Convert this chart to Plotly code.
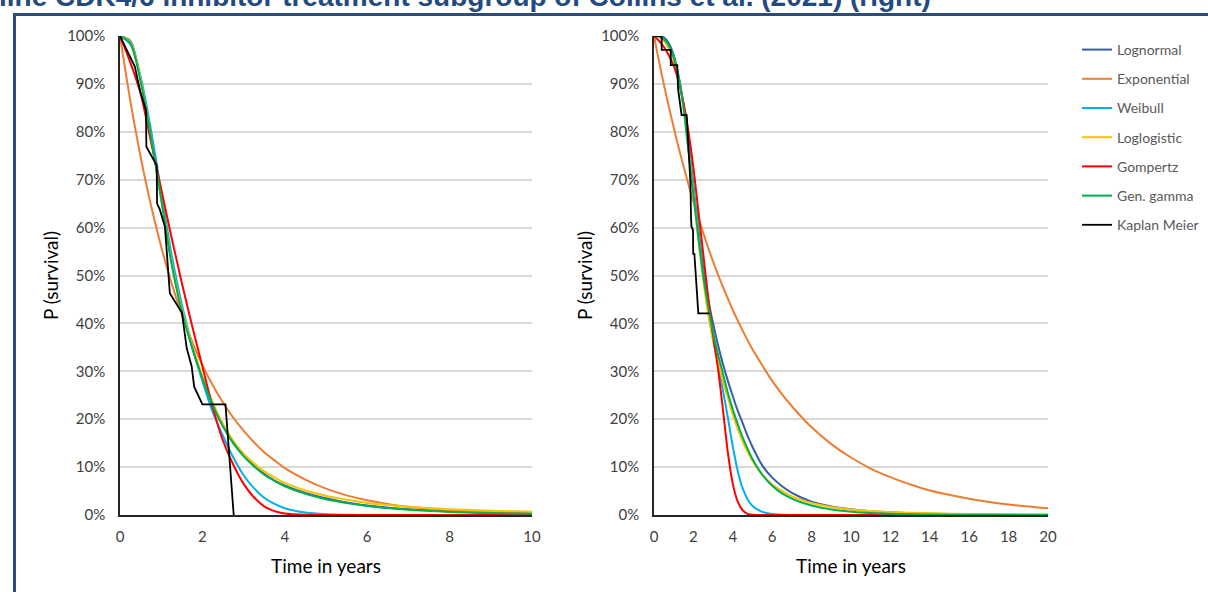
import plotly.graph_objects as go

# ---------------- data ----------------
title_text = "line CDK4/6 inhibitor treatment subgroup of Collins et al. (2021) (right)"
model_names = ["Lognormal", "Exponential", "Weibull", "Loglogistic", "Gompertz", "Gen. gamma", "Kaplan Meier"]
model_colors = ["#3A5DA5", "#ED7D31", "#00B0F0", "#FFC000", "#FF0000", "#00B050", "#000000"]

# Left panel (years 0-10)
t_left = [0, 0.25, 0.5, 0.75, 1, 1.25, 1.5, 1.75, 2, 2.25, 2.5, 2.75, 3, 3.25, 3.5, 3.75, 4, 4.5, 5, 5.5, 6, 7, 8, 9, 10]
left_lognormal = [100, 99, 91, 79, 66, 53, 43, 35, 28.5, 23, 18.5, 15, 12.4, 10.3, 8.6, 7.2, 6.2, 4.6, 3.5, 2.6, 2.0, 1.2, 0.75, 0.5, 0.32]
left_exponential = [100, 86.5, 74.8, 64.7, 56.0, 48.4, 41.9, 36.2, 31.3, 27.1, 23.5, 20.3, 17.6, 15.2, 13.1, 11.4, 9.8, 7.4, 5.5, 4.1, 3.1, 1.7, 1.0, 0.54, 0.30]
left_weibull = [100, 98.3, 91.5, 80.5, 67.5, 54.5, 44, 35.5, 28, 21.5, 16.5, 12, 8.3, 5.6, 3.6, 2.3, 1.4, 0.5, 0.15, 0.05, 0.01, 0, 0, 0, 0]
left_loglogistic = [100, 98.8, 91, 79, 66, 53, 43, 35.5, 29, 23.5, 19, 15.5, 12.8, 10.8, 9.1, 7.8, 6.7, 5.1, 4.0, 3.2, 2.5, 1.7, 1.2, 0.9, 0.7]
left_gompertz = [100, 94.5, 88, 78, 68, 58, 48.5, 39.5, 31, 22.5, 15.5, 10.5, 6.5, 3.7, 1.8, 0.8, 0.3, 0.03, 0, 0, 0, 0, 0, 0, 0]
left_gengamma = [100, 98.5, 90.5, 79, 66, 52.5, 42.5, 35, 28.5, 23, 18.5, 15, 12.3, 10.2, 8.4, 7.1, 6.0, 4.4, 3.3, 2.5, 1.9, 1.1, 0.65, 0.4, 0.25]
left_km_t = [0, 0.2, 0.36, 0.49, 0.61, 0.63, 0.64, 0.85, 0.89, 0.9, 0.97, 1.09, 1.17, 1.21, 1.46, 1.5, 1.62, 1.74, 1.8, 2.0, 2.56, 2.76]
left_km_s = [100, 96.4, 93.6, 88.4, 85.2, 84.5, 76.9, 73.4, 73, 65, 63.7, 60.2, 49.5, 46.3, 42.8, 42.4, 34.8, 31, 26.8, 23.1, 23.1, 0]

# Right panel (years 0-20)
t_right = [0, 0.25, 0.5, 0.75, 1, 1.25, 1.5, 1.75, 2, 2.25, 2.5, 2.75, 3, 3.25, 3.5, 3.75, 4, 4.25, 4.5, 4.75, 5,
           5.5, 6, 6.5, 7, 7.5, 8, 9, 10, 11, 12, 13, 14, 16, 18, 20]
right_lognormal = [100, 100, 99.7, 98.5, 96, 91.5, 85.5, 77, 68, 59.5, 51.5, 45, 40, 35.5, 31.5, 28, 24.8, 21.8, 19.2, 16.5, 14.2,
                   10.3, 7.8, 6.0, 4.6, 3.6, 2.8, 1.8, 1.2, 0.8, 0.55, 0.38, 0.27, 0.14, 0.08, 0.05]
right_exponential = [100, 94.8, 89.9, 85.3, 80.9, 76.7, 72.8, 69.0, 65.4, 62.1, 58.9, 55.8, 52.9, 50.2, 47.6, 45.2, 42.8, 40.6, 38.5, 36.5, 34.6,
                     31.2, 28.0, 25.2, 22.7, 20.4, 18.3, 14.8, 12.0, 9.7, 7.9, 6.4, 5.1, 3.4, 2.2, 1.4]
right_weibull = [100, 99.9, 99.3, 98, 95.5, 91.5, 85.5, 78, 69, 59.5, 50.5, 42.5, 36.5, 31.5, 26, 20.3, 14.3, 9.2, 5.6, 3.3, 1.9,
                 0.65, 0.2, 0.05, 0.01, 0, 0, 0, 0, 0, 0, 0, 0, 0, 0, 0]
right_loglogistic = [100, 99.8, 99, 97.5, 95, 91, 85, 76.5, 67, 57.5, 49, 42, 36.5, 32, 28, 24.5, 21, 18, 15.4, 13.2, 11.3,
                     8.4, 6.4, 5.0, 3.9, 3.1, 2.5, 1.65, 1.15, 0.82, 0.6, 0.46, 0.36, 0.23, 0.15, 0.1]
right_gompertz = [100, 99, 97.7, 96, 93.8, 90.5, 86, 80, 72.5, 63.5, 54.5, 45.5, 37.5, 30.5, 22, 13, 6.5, 2.8, 1.0, 0.25, 0.05,
                  0, 0, 0, 0, 0, 0, 0, 0, 0, 0, 0, 0, 0, 0, 0]
right_gengamma = [100, 99.9, 99.3, 98, 95.5, 91.5, 85, 76, 67, 58, 50, 43.5, 38, 33.5, 29.5, 25.5, 22, 19, 16.2, 13.8, 11.7,
                  8.4, 6.1, 4.5, 3.4, 2.6, 2.0, 1.15, 0.7, 0.42, 0.25, 0.15, 0.1, 0.04, 0.02, 0.01]
right_km_t = [0, 0.39, 0.39, 0.85, 0.85, 1.18, 1.22, 1.4, 1.66, 1.72, 1.85, 1.88, 1.9, 1.98, 1.99, 2.05, 2.25, 2.81]
right_km_s = [100, 100, 97.1, 97.1, 93.9, 93.9, 89, 83.5, 83.5, 78, 69.2, 62, 60.2, 59.5, 54.5, 54.5, 42.1, 42.1]

y_ticks = [0, 10, 20, 30, 40, 50, 60, 70, 80, 90, 100]
y_tick_labels = [f"{v}%" for v in y_ticks]
left_x_ticks = [0, 2, 4, 6, 8, 10]
right_x_ticks = [0, 2, 4, 6, 8, 10, 12, 14, 16, 18, 20]
x_title = "Time in years"
y_title = "P (survival)"

# ---------------- figure ----------------
W, H = 1208, 592

def px_x(p):
    return p / W
def px_y(p):
    return 1 - p / H

fig = go.Figure()

left_models = [left_lognormal, left_exponential, left_weibull, left_loglogistic, left_gompertz, left_gengamma]
right_models = [right_lognormal, right_exponential, right_weibull, right_loglogistic, right_gompertz, right_gengamma]

for i, vals in enumerate(left_models):
    fig.add_trace(go.Scatter(x=t_left, y=vals, mode="lines", name=model_names[i],
                             line=dict(color=model_colors[i], width=2, shape="spline", smoothing=0.8),
                             xaxis="x", yaxis="y", showlegend=False, legendgroup=model_names[i]))
fig.add_trace(go.Scatter(x=left_km_t, y=left_km_s, mode="lines", name=model_names[6],
                         line=dict(color=model_colors[6], width=1.8), xaxis="x", yaxis="y",
                         showlegend=False, legendgroup=model_names[6]))

for i, vals in enumerate(right_models):
    fig.add_trace(go.Scatter(x=t_right, y=vals, mode="lines", name=model_names[i],
                             line=dict(color=model_colors[i], width=2, shape="spline", smoothing=0.8),
                             xaxis="x2", yaxis="y2", showlegend=True, legendgroup=model_names[i]))
fig.add_trace(go.Scatter(x=right_km_t, y=right_km_s, mode="lines", name=model_names[6],
                         line=dict(color=model_colors[6], width=1.8), xaxis="x2", yaxis="y2",
                         showlegend=True, legendgroup=model_names[6]))

tick_font = dict(family="Lato", size=15, color="#404040")
title_font = dict(family="Lato", size=19, color="#000000")

def yaxis_cfg(anchor):
    return dict(domain=[px_y(515), px_y(36)], range=[0, 100], tickmode="array",
                tickvals=y_ticks, ticktext=y_tick_labels, automargin=False,
                showgrid=True, gridcolor="#D9D9D9", gridwidth=1.5, zeroline=False,
                showline=True, linecolor="#262626", linewidth=1.5, ticks="",
                tickfont=tick_font, anchor=anchor, ticklabelstandoff=10,
                title=dict(text=y_title, font=title_font, standoff=3))

def xaxis_cfg(dom, rng, ticks, anchor):
    return dict(domain=dom, range=rng, tickvals=ticks, showgrid=False, zeroline=False,
                showline=True, linecolor="#262626", linewidth=1.5, ticks="", automargin=False,
                tickfont=tick_font, anchor=anchor, ticklabelstandoff=7,
                title=dict(text=x_title, font=title_font, standoff=16))

fig.update_layout(
    width=W, height=H,
    margin=dict(l=0, r=0, t=0, b=0, pad=0, autoexpand=False),
    paper_bgcolor="white", plot_bgcolor="white",
    xaxis=xaxis_cfg([px_x(120), px_x(532)], [0, 10], left_x_ticks, "y"),
    yaxis=yaxis_cfg("x"),
    xaxis2=xaxis_cfg([px_x(654), px_x(1048)], [0, 20], right_x_ticks, "y2"),
    yaxis2=yaxis_cfg("x2"),
    legend=dict(x=px_x(1077), y=px_y(34), xanchor="left", yanchor="top",
                font=dict(family="Lato", size=14, color="#595959"),
                traceorder="grouped", tracegroupgap=8, bgcolor="rgba(0,0,0,0)"),
    showlegend=True,
)

# frame
fig.add_shape(type="rect", xref="paper", yref="paper",
              x0=px_x(14.5), x1=1.03, y0=-0.03, y1=px_y(14.5),
              line=dict(color="#2B4C7E", width=3), fillcolor="rgba(0,0,0,0)", layer="above")

# title (its upper part lies above the picture, as in the reference)
fig.add_annotation(text="<b>" + title_text + "</b>", xref="paper", yref="paper",
                   x=px_x(-3.3), y=px_y(-3.3), xanchor="left", yanchor="middle", showarrow=False,
                   font=dict(family="Liberation Sans", size=28, color="#234A80"))

fig.write_html("out.html")
